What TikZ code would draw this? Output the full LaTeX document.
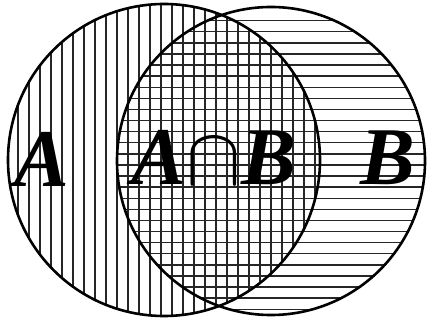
\documentclass[tikz,border=0pt]{standalone}
\usepackage{fix-cm}
\usepackage{fontspec}
\setmainfont{Liberation Serif}
\usetikzlibrary{positioning}
\tikzset{
  hatch/.style={line width=1.4pt, black!85},
  ring/.style={draw, circle, line width=2.6pt, inner sep=0pt},
  setlabel/.style={font=\fontsize{82}{82}\selectfont\bfseries\itshape, inner sep=0pt, anchor=base}
}

\begin{document}
\begin{tikzpicture}[x=1pt, y=1pt]
\useasboundingbox (0,0) rectangle (427,320);
% vertical lines in A
\begin{scope}
\clip (164,160) circle (156);
\foreach \x in {7,18,...,330} \draw[hatch] (\x,0) -- (\x,320);
\end{scope}
% horizontal lines in B
\begin{scope}
\clip (271,159) circle (154);
\foreach \y in {0,...,27} \draw[hatch] (110,299.3-11.1*\y) -- (430,299.3-11.1*\y);
\end{scope}
\node[ring, minimum size=312pt] (setA) at (164,160) {};
\node[ring, minimum size=308pt] (setB) at (271,159) {};
\node[setlabel] (labelA) at (42,133) {A};
\node[setlabel] (labelAB) at (214,135) {A$\cap$B};
\node[setlabel] (labelB) at (388,135) {B};
\end{tikzpicture}
\end{document}
